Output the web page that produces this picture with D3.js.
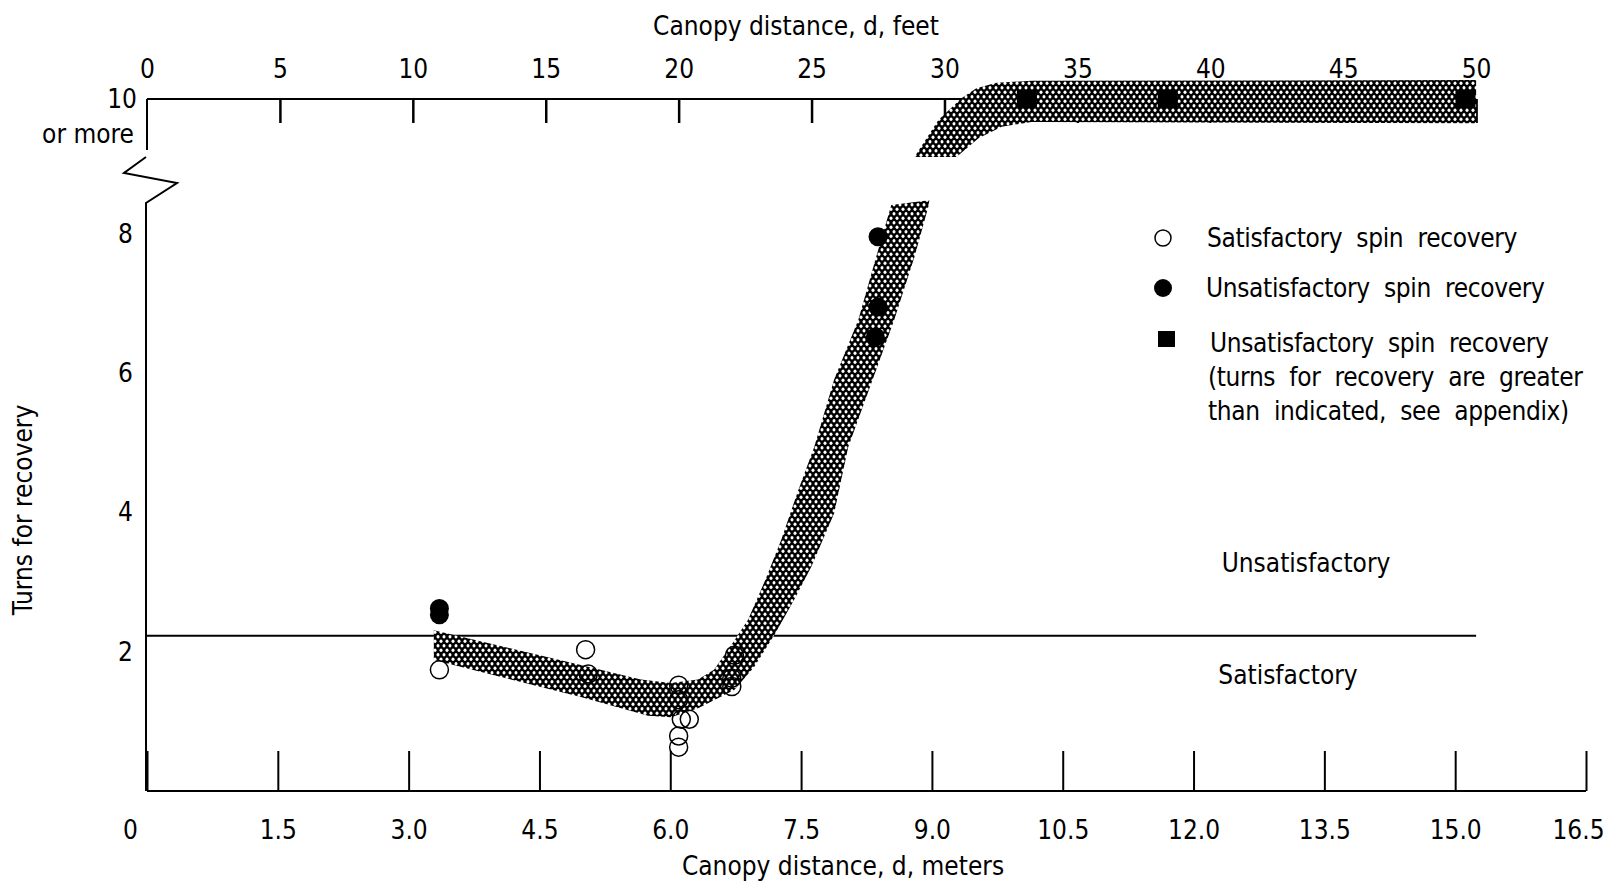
<!DOCTYPE html>
<meta charset="utf-8">
<script src="https://d3js.org/d3.v7.min.js"></script>
<style>
  body { margin: 0; background: #fff; }
  svg { display: block; }
  text { font-family: "Liberation Sans Narrow", "DejaVu Sans Condensed", sans-serif; font-size: 26px; fill: #000; }
</style>
<div id="my_dataviz"></div>
<script>
  // tick labels
  var feetTicks = [0, 5, 10, 15, 20, 25, 30, 35, 40, 45, 50];
  var meterTicks = [0, 1.5, 3.0, 4.5, 6.0, 7.5, 9.0, 10.5, 12.0, 13.5, 15.0, 16.5];
  var turnTicks = [2, 4, 6, 8];

  // data points: canopy distance in feet, turns for recovery
  var satisfactory = [
    [11, 1.74], [16.5, 2.03], [16.6, 1.68],
    [20, 1.52], [20, 1.31], [20.1, 1.03], [20.4, 1.03], [20, 0.79], [20, 0.63],
    [22, 1.62], [22, 1.5], [22.1, 1.95]
  ];
  var unsatisfactory = [
    [11, 2.62], [11, 2.53], [27.5, 7.96], [27.5, 6.95], [27.4, 6.52]
  ];
  var unsatisfactoryMore = [[33.1, 10], [38.4, 10], [49.6, 10]];

  // faired band, lower part (left/top edge out, right/bottom edge back)
  var bandLower = [
    [10.79, 2.31], [16.32, 1.81], [18.58, 1.60], [19.71, 1.55], [20.73, 1.60],
    [21.33, 1.74], [21.97, 2.09], [22.61, 2.46], [23.26, 3.03], [23.86, 3.61],
    [24.50, 4.32], [25.10, 4.94], [25.85, 5.91], [26.76, 6.77], [27.43, 7.67],
    [28.00, 8.43], [29.43, 8.50],
    [29.39, 8.40], [28.87, 7.67], [28.11, 6.77], [27.32, 5.93], [26.38, 4.94],
    [25.85, 3.99], [24.99, 3.22], [24.35, 2.75], [23.60, 2.24], [22.84, 1.78],
    [22.09, 1.45], [20.73, 1.19], [19.71, 1.06], [18.85, 1.08], [16.32, 1.35],
    [10.79, 1.88]
  ];
  // faired band, upper part
  var bandUpper = [
    [28.87, 9.14], [29.77, 9.69], [30.64, 10.01], [31.20, 10.16], [31.96, 10.24],
    [33.27, 10.27], [50.0, 10.28],
    [50.0, 9.64], [33.27, 9.66], [32.15, 9.59], [31.28, 9.42], [30.45, 9.14]
  ];
  var boundary = 2.23;

  var width = 1608, height = 886;
  var svg = d3.select("#my_dataviz").append("svg")
    .attr("width", width).attr("height", height);

  var xM = d3.scaleLinear().domain([0, 16.5]).range([147, 1586]);
  var xFt = d3.scaleLinear().domain([0, 16.5 / 0.3048]).range([147, 1586]);
  var y = d3.scaleLinear().domain([0, 8, 10]).range([791, 234, 99]);

  // mesh pattern for the band
  var pat = svg.append("defs").append("pattern")
    .attr("id", "mesh").attr("patternUnits", "userSpaceOnUse")
    .attr("width", 6).attr("height", 9);
  pat.append("rect").attr("width", 6).attr("height", 9).attr("fill", "#000");
  [[3, 2.25], [0, 6.75], [6, 6.75]].forEach(function(c) {
    pat.append("ellipse").attr("cx", c[0]).attr("cy", c[1])
      .attr("rx", 1.5).attr("ry", 1.7).attr("fill", "#fff");
  });

  var line = d3.line()
    .x(function(d) { return xFt(d[0]); })
    .y(function(d) { return y(d[1]); });

  // bottom axis (meters)
  var bottomAxis = svg.append("g")
    .attr("transform", "translate(0," + y(0) + ")")
    .call(d3.axisBottom(xM).tickValues(meterTicks).tickSize(-40).tickPadding(30)
      .tickFormat(function(d) { return d === 0 ? "0" : d3.format(".1f")(d); }));
  bottomAxis.select(".domain").remove();
  bottomAxis.selectAll("line").attr("stroke-width", 2);
  bottomAxis.selectAll("text").attr("x", function(d) {
    return d === 0 ? -17 : (d === 16.5 ? -8 : 0);
  });
  svg.append("line")
    .attr("x1", xM(0)).attr("x2", xM(16.5))
    .attr("y1", y(0)).attr("y2", y(0))
    .attr("stroke", "#000").attr("stroke-width", 2);

  // top axis (feet)
  var topAxis = svg.append("g")
    .attr("transform", "translate(0," + y(10) + ")")
    .call(d3.axisTop(xFt).tickValues(feetTicks).tickSize(-24).tickPadding(21));
  topAxis.select(".domain").remove();
  topAxis.selectAll("line").attr("stroke-width", 2.5)
    .attr("display", function(d) { return d === 0 ? "none" : null; });
  svg.append("line")
    .attr("x1", xFt(0)).attr("x2", xFt(50))
    .attr("y1", y(10)).attr("y2", y(10))
    .attr("stroke", "#000").attr("stroke-width", 2);

  // left axis with break
  var leftAxis = svg.append("g")
    .attr("transform", "translate(" + xM(0) + ",0)")
    .call(d3.axisLeft(y).tickValues(turnTicks).tickSize(0).tickPadding(14));
  leftAxis.select(".domain").remove();
  var x0 = xM(0);
  svg.append("path")
    .attr("d", "M" + x0 + "," + y(10) + "V" + (y(10) + 51))
    .attr("fill", "none").attr("stroke", "#000").attr("stroke-width", 2);
  svg.append("path")
    .attr("d", "M" + (x0 - 1) + "," + (y(10) + 58) + "L" + (x0 - 23) + "," + (y(10) + 74) +
      "L" + (x0 + 30) + "," + (y(10) + 84) + "L" + (x0 - 1) + "," + (y(10) + 104) +
      "V" + y(0))
    .attr("fill", "none").attr("stroke", "#000").attr("stroke-width", 2);
  svg.append("text").attr("x", x0 - 10).attr("y", y(10))
    .attr("text-anchor", "end").attr("dominant-baseline", "central").text("10");
  svg.append("text").attr("x", x0 - 13).attr("y", y(10) + 35)
    .attr("text-anchor", "end").attr("dominant-baseline", "central").text("or more");

  // boundary line
  svg.append("line")
    .attr("x1", xFt(0)).attr("x2", xFt(50))
    .attr("y1", y(boundary)).attr("y2", y(boundary))
    .attr("stroke", "#000").attr("stroke-width", 2);

  // band
  svg.append("path").datum(bandLower).attr("d", function(d) { return line(d) + "Z"; })
    .attr("fill", "url(#mesh)");
  svg.append("path").datum(bandUpper).attr("d", function(d) { return line(d) + "Z"; })
    .attr("fill", "url(#mesh)");

  // points
  svg.append("g").selectAll("circle").data(satisfactory).enter().append("circle")
    .attr("cx", function(d) { return xFt(d[0]); })
    .attr("cy", function(d) { return y(d[1]); })
    .attr("r", 9).attr("fill", "none").attr("stroke", "#000").attr("stroke-width", 1.5);
  svg.append("g").selectAll("circle").data(unsatisfactory).enter().append("circle")
    .attr("cx", function(d) { return xFt(d[0]); })
    .attr("cy", function(d) { return y(d[1]); })
    .attr("r", 9.5).attr("fill", "#000");
  svg.append("g").selectAll("rect").data(unsatisfactoryMore).enter().append("rect")
    .attr("x", function(d) { return xFt(d[0]) - 10; })
    .attr("y", function(d) { return y(d[1]) - 9; })
    .attr("width", 20).attr("height", 18).attr("fill", "#000");

  // region labels
  svg.append("text").attr("x", 1306).attr("y", 563).attr("text-anchor", "middle")
    .attr("dominant-baseline", "central").text("Unsatisfactory");
  svg.append("text").attr("x", 1288).attr("y", 675).attr("text-anchor", "middle")
    .attr("dominant-baseline", "central").text("Satisfactory");

  // axis titles
  svg.append("text").attr("x", 796).attr("y", 26).attr("text-anchor", "middle")
    .attr("dominant-baseline", "central").text("Canopy distance,  d,  feet");
  svg.append("text").attr("x", 843).attr("y", 866).attr("text-anchor", "middle")
    .attr("dominant-baseline", "central").text("Canopy distance,  d,  meters");
  svg.append("text").attr("transform", "translate(23,510) rotate(-90)")
    .attr("text-anchor", "middle").attr("dominant-baseline", "central")
    .text("Turns for recovery");

  // legend
  var lg = svg.append("g");
  lg.append("circle").attr("cx", 1163).attr("cy", 238).attr("r", 8)
    .attr("fill", "none").attr("stroke", "#000").attr("stroke-width", 1.5);
  lg.append("circle").attr("cx", 1163).attr("cy", 288).attr("r", 9).attr("fill", "#000");
  lg.append("rect").attr("x", 1158).attr("y", 331).attr("width", 17).attr("height", 16).attr("fill", "#000");
  var legendText = [
    [1207, 238, "Satisfactory  spin  recovery"],
    [1206, 288, "Unsatisfactory  spin  recovery"],
    [1210, 343, "Unsatisfactory  spin  recovery"],
    [1208, 377, "(turns  for  recovery  are  greater"],
    [1208, 411, "than  indicated,  see  appendix)"]
  ];
  lg.selectAll("text").data(legendText).enter().append("text")
    .attr("x", function(d) { return d[0]; })
    .attr("y", function(d) { return d[1]; })
    .attr("dominant-baseline", "central")
    .style("white-space", "pre")
    .style("letter-spacing", "-0.35px")
    .text(function(d) { return d[2]; });
</script>
